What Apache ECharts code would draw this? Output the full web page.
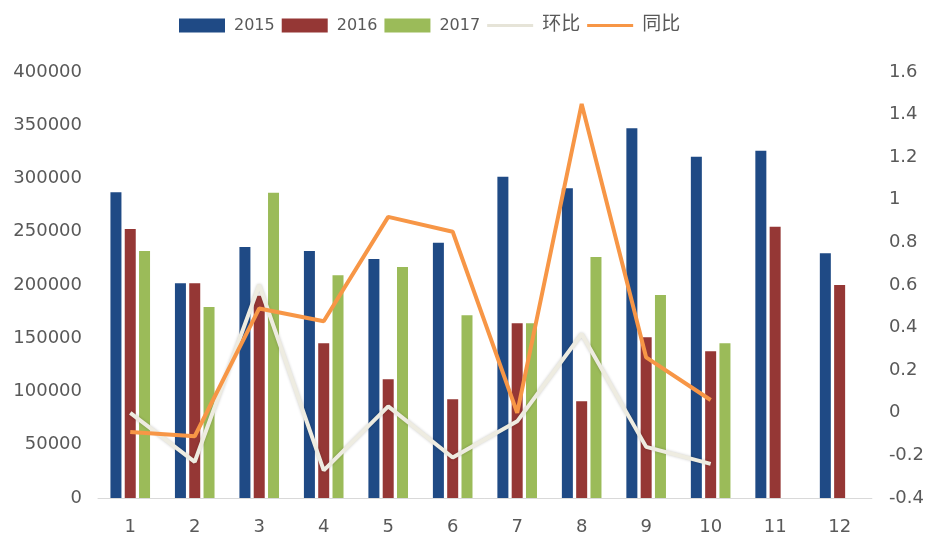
<!DOCTYPE html>
<html><head><meta charset="utf-8">
<script src="https://cdn.jsdelivr.net/npm/echarts@6/dist/echarts.min.js"></script>
<style>html,body{margin:0;padding:0;background:#fff}#c{width:927px;height:540px}</style>
</head><body><div id="c"></div>
<script>
const months = ['1','2','3','4','5','6','7','8','9','10','11','12'];
const v2015 = [287000, 201600, 235700, 231900, 224400, 239700, 301700, 290800, 347100, 320500, 326100, 229800];
const v2016 = [252600, 201600, 190000, 145300, 111500, 92700, 164000, 90800, 150900, 137700, 254800, 200000];
const v2017 = [231900, 179300, 286700, 209100, 216900, 171500, 164000, 226300, 190600, 145300, null, null];
const hb = [0.0, -0.23, 0.6, -0.27, 0.03, -0.21, -0.04, 0.37, -0.16, -0.24, null, null];
const tb = [-0.09, -0.11, 0.49, 0.43, 0.92, 0.85, 0.0, 1.45, 0.26, 0.06, null, null];
const leftTicks = {min: 0, max: 400000, interval: 50000};
const rightTicks = {min: -0.4, max: 1.6, interval: 0.2};

const labelStyle = {color: '#595959', fontSize: 18, fontFamily: 'DejaVu Sans'};
const lineIcon = 'path://M0,0 M46,14 M0,5.5 L46,5.5 L46,8.5 L0,8.5 Z';
const chart = echarts.init(document.getElementById('c'), null, {renderer: 'canvas'});
chart.setOption({
  animation: false,
  backgroundColor: '#fff',
  legend: {
    top: 16, left: 179, padding: 0, itemWidth: 46, itemHeight: 14, itemGap: 7,
    textStyle: {color: '#595959', fontSize: 16, fontFamily: 'DejaVu Sans, Noto Sans CJK SC', padding: [0,0,0,4]},
    data: [
      {name: '2015', icon: 'rect'},
      {name: '2016', icon: 'rect'},
      {name: '2017', icon: 'rect'},
      {name: '环比', icon: lineIcon, itemStyle: {color: '#E6E4D8'}, textStyle: {fontSize: 19}},
      {name: '同比', icon: lineIcon, textStyle: {fontSize: 19}}
    ]
  },
  grid: {left: 98, right: 49.5, top: 72, bottom: 42},
  xAxis: {
    type: 'category', data: months,
    axisLine: {lineStyle: {color: '#d9d9d9', width: 1}},
    axisTick: {show: false},
    axisLabel: Object.assign({margin: 20}, labelStyle)
  },
  yAxis: [
    Object.assign({type: 'value', splitLine: {show: false}, axisLine: {show: false}, axisTick: {show: false},
      axisLabel: Object.assign({margin: 16, formatter: v => String(v)}, labelStyle)}, leftTicks),
    Object.assign({type: 'value', position: 'right', splitLine: {show: false}, axisLine: {show: false}, axisTick: {show: false},
      axisLabel: Object.assign({margin: 17, formatter: v => String(Math.round(v*10)/10)}, labelStyle)}, rightTicks)
  ],
  series: [
    {name: '2015', type: 'bar', data: v2015, barWidth: 11, barGap: '30%', itemStyle: {color: '#1F4A85'}},
    {name: '2016', type: 'bar', data: v2016, barWidth: 11, barGap: '30%', itemStyle: {color: '#953735'}},
    {name: '2017', type: 'bar', data: v2017, barWidth: 11, barGap: '30%', itemStyle: {color: '#9BBB59'}},
    {name: '环比', type: 'line', yAxisIndex: 1, data: hb, symbol: 'none',
      lineStyle: {color: '#EEECE1', width: 4, shadowBlur: 3, shadowColor: 'rgba(0,0,0,0.2)'}, itemStyle: {color: '#EEECE1'}},
    {name: '同比', type: 'line', yAxisIndex: 1, data: tb, symbol: 'none',
      lineStyle: {color: '#F79646', width: 4}, itemStyle: {color: '#F79646'}}
  ]
});
</script></body></html>
